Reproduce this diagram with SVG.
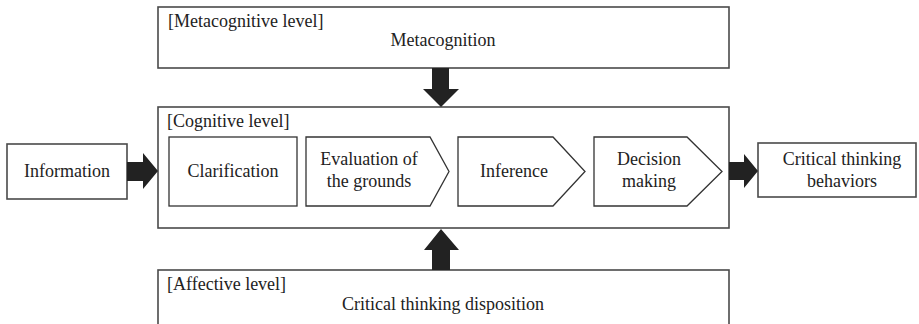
<svg xmlns="http://www.w3.org/2000/svg" width="919" height="324" viewBox="0 0 919 324">
<style>
.box{fill:#fff;stroke:#4a4a4a;stroke-width:1.6}
.step{fill:#fff;stroke:#333;stroke-width:1.3}
.arr{fill:#222}
text{font-family:"Liberation Serif","Times New Roman",serif;font-size:18px;fill:#222}
.c{text-anchor:middle}
</style>
<rect width="919" height="324" fill="#fff"/>
<g id="metacognitive">
<rect class="box" x="158" y="7" width="571" height="61"/>
<text x="168" y="27">[Metacognitive level]</text>
<text class="c" x="443" y="46">Metacognition</text>
</g>
<g id="cognitive">
<rect class="box" x="158" y="107" width="571" height="121"/>
<text x="167" y="127">[Cognitive level]</text>
</g>
<g id="affective">
<rect class="box" x="158" y="270" width="571" height="70"/>
<text x="167" y="290">[Affective level]</text>
<text class="c" x="443" y="310">Critical thinking disposition</text>
</g>
<g id="information">
<rect class="box" x="7" y="144" width="120" height="55"/>
<text class="c" x="67" y="177">Information</text>
</g>
<g id="behaviors">
<rect class="box" x="758" y="143" width="158" height="54"/>
<text class="c" x="842" y="165">Critical thinking</text>
<text class="c" x="842" y="187">behaviors</text>
</g>
<g id="clarification">
<rect class="step" x="169" y="137" width="128" height="69"/>
<text class="c" x="233" y="177">Clarification</text>
</g>
<g id="evaluation">
<polygon class="step" points="306,137 430,137 449,171.5 430,206 306,206"/>
<text class="c" x="369" y="165">Evaluation of</text>
<text class="c" x="369" y="187">the grounds</text>
</g>
<g id="inference">
<polygon class="step" points="458,137 553,137 585,171.5 553,206 458,206"/>
<text class="c" x="514" y="177">Inference</text>
</g>
<g id="decision">
<polygon class="step" points="594,137 687,137 722,171.5 687,206 594,206"/>
<text class="c" x="649" y="165">Decision</text>
<text class="c" x="649" y="187">making</text>
</g>
<g id="connectors">
<polygon class="arr" points="127,162 143,162 143,153 158,171 143,189 143,181 127,181"/>
<polygon class="arr" points="729,162 744,162 744,154 758,171 744,188 744,180 729,180"/>
<polygon class="arr" points="432,68 449,68 449,89 459,89 441,107 423,89 432,89"/>
<polygon class="arr" points="432,270 450,270 450,250 459,250 441,229 424,250 432,250"/>
</g>
</svg>
